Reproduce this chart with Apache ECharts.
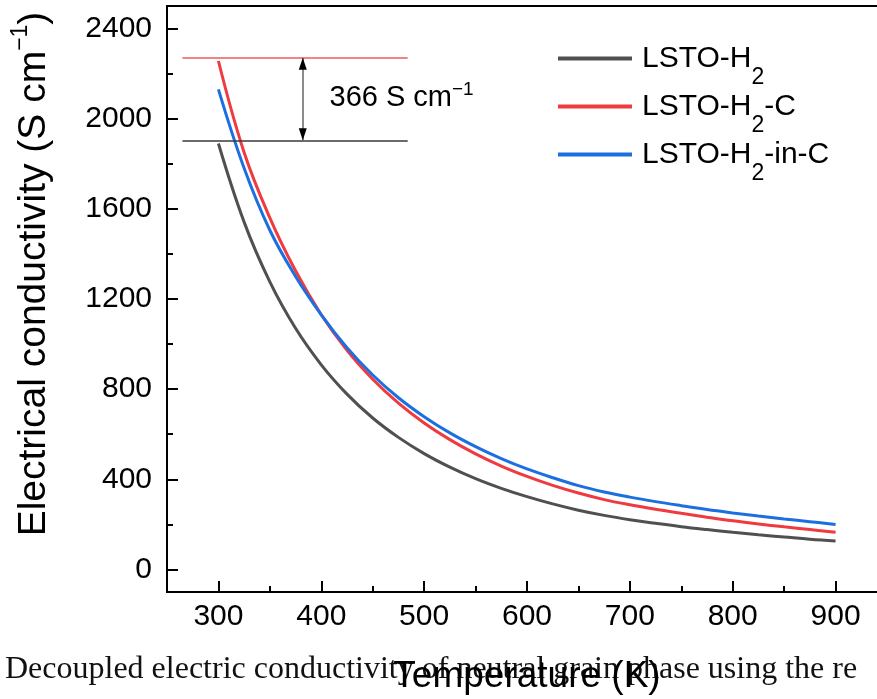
<!DOCTYPE html>
<html>
<head>
<meta charset="utf-8">
<script src="https://cdn.jsdelivr.net/npm/echarts@6/dist/echarts.min.js"></script>
<style>
  html, body { margin: 0; padding: 0; background: #fff; }
  #chart { width: 877px; height: 699px; }
</style>
</head>
<body>
<div id="chart"></div>
<script>
// temperature (K)
const temps = [300, 325, 350, 375, 400, 425, 450, 475, 500, 525, 550, 575, 600,
  625, 650, 675, 700, 725, 750, 775, 800, 825, 850, 875, 900]
// electrical conductivity (S cm-1)
const lstoH2 = [1890, 1541, 1276, 1070, 908, 778, 672, 586, 514, 454, 403, 360, 323,
  291, 263, 240, 221, 205, 190, 177, 165, 154, 144, 134, 126]
const lstoH2C = [2256, 1850, 1560, 1325, 1130, 972, 844, 738, 650, 576, 513, 459, 413,
  373, 339, 310, 287, 267, 249, 232, 216, 202, 189, 177, 165]
const lstoH2inC = [2130, 1780, 1505, 1300, 1130, 984, 863, 762, 678, 606, 545, 492, 446,
  407, 372, 344, 321, 301, 283, 266, 251, 237, 224, 212, 200]

const seriesNames = ['LSTO-H2', 'LSTO-H2-C', 'LSTO-H2-in-C']
const xTicks = [300, 400, 500, 600, 700, 800, 900]
const xMinorTicks = [350, 450, 550, 650, 750, 850]
const yTicks = [0, 400, 800, 1200, 1600, 2000, 2400]
const yMinorTicks = [200, 600, 1000, 1400, 1800, 2200]

// 366 S cm-1 gap annotation
const gapTop = 2270
const gapBottom = 1904
const gapFrom = 265
const gapTo = 484
const arrowX = 382
const gapLabelAt = [408, 2090]

const FONT = 'Liberation Sans, Arial, sans-serif'
const colors = ['#505050', '#EF3A3F', '#1D6FE0']

const chart = echarts.init(document.getElementById('chart'))

function toPairs(vals) {
  return temps.map((t, i) => [t, vals[i]])
}

function initSeries(name, vals, color) {
  return {
    name,
    type: 'line',
    data: toPairs(vals),
    smooth: 0.4,
    symbol: 'none',
    lineStyle: { color, width: 3 },
    itemStyle: { color },
    z: 3
  }
}

const series = [
  initSeries(seriesNames[0], lstoH2, colors[0]),
  initSeries(seriesNames[1], lstoH2C, colors[1]),
  initSeries(seriesNames[2], lstoH2inC, colors[2])
]

// annotation lines, arrow and label
series[0].markLine = {
  silent: true,
  animation: false,
  symbol: ['none', 'none'],
  label: { show: false },
  data: [
    [{ coord: [gapFrom, gapTop], lineStyle: { color: '#F25A5E', width: 1.5, type: 'solid' } }, { coord: [gapTo, gapTop] }],
    [{ coord: [gapFrom, gapBottom], lineStyle: { color: '#3a3a3a', width: 1.5, type: 'solid' } }, { coord: [gapTo, gapBottom] }],
    [{ coord: [arrowX, gapTop], lineStyle: { color: '#666', width: 1.5, type: 'solid' } }, { coord: [arrowX, gapBottom] }]
  ]
}
series[0].markPoint = {
  silent: true,
  animation: false,
  data: [{
    coord: [arrowX, gapTop],
    symbol: 'triangle',
    symbolSize: [8, 12],
    symbolOffset: [0, 6],
    itemStyle: { color: '#000' },
    label: { show: false }
  }, {
    coord: [arrowX, gapBottom],
    symbol: 'triangle',
    symbolSize: [8, 12],
    symbolRotate: 180,
    symbolOffset: [0, -6],
    itemStyle: { color: '#000' },
    label: { show: false }
  }, {
    coord: gapLabelAt,
    symbol: 'circle',
    symbolSize: 0,
    label: {
      show: true,
      position: 'right',
      distance: 0,
      formatter: '{n|366 S cm}{s|−1}',
      rich: {
        n: { fontFamily: FONT, fontSize: 29, lineHeight: 29, color: '#000', verticalAlign: 'bottom' },
        s: { fontFamily: FONT, fontSize: 19, lineHeight: 19, color: '#000', verticalAlign: 'bottom', padding: [0, 0, 14, 0] }
      }
    }
  }]
}

const plainNum = v => String(v)

const option = {
  animation: false,
  backgroundColor: '#fff',
  grid: {
    show: true,
    left: 167,
    top: 6,
    width: 720,
    bottom: 107,
    outerBoundsMode: 'none',
    containLabel: false,
    borderColor: '#000',
    borderWidth: 2,
    backgroundColor: 'transparent'
  },
  legend: {
    data: seriesNames,
    orient: 'vertical',
    left: 558,
    top: 28,
    padding: 0,
    icon: 'rect',
    itemWidth: 74,
    itemHeight: 4,
    itemGap: -13,
    formatter: name => {
      const [a, b] = name.split('H2')
      return '{f|' + a + 'H}{s|2}' + (b ? '{n|' + b + '}' : '')
    },
    textStyle: {
      rich: {
        f: { fontFamily: FONT, fontSize: 30, lineHeight: 30, color: '#000', verticalAlign: 'middle', padding: [0, 0, 0, 5] },
        n: { fontFamily: FONT, fontSize: 30, lineHeight: 30, color: '#000', verticalAlign: 'middle' },
        s: { fontFamily: FONT, fontSize: 23, lineHeight: 23, color: '#000', verticalAlign: 'middle', padding: [38, 0, 0, 0] }
      }
    }
  },
  xAxis: [{
    type: 'value',
    min: 250,
    max: 950,
    name: 'Temperature (K)',
    nameLocation: 'middle',
    nameGap: 66,
    nameTextStyle: { fontFamily: FONT, fontSize: 37, color: '#000' },
    axisLine: { show: true, onZero: false, lineStyle: { color: '#000', width: 2 } },
    axisTick: { show: true, inside: true, length: 11, customValues: xTicks, lineStyle: { color: '#000', width: 2 } },
    axisLabel: { customValues: xTicks, formatter: plainNum, margin: 10, fontFamily: FONT, fontSize: 30, color: '#000' },
    splitLine: { show: false }
  }, {
    type: 'value',
    min: 250,
    max: 950,
    gridIndex: 0,
    position: 'bottom',
    axisLine: { show: false, onZero: false },
    axisTick: { show: true, inside: true, length: 6, customValues: xMinorTicks, lineStyle: { color: '#000', width: 2 } },
    axisLabel: { show: false },
    splitLine: { show: false }
  }],
  yAxis: [{
    type: 'value',
    min: -100,
    max: 2500,
    axisLine: { show: true, onZero: false, lineStyle: { color: '#000', width: 2 } },
    axisTick: { show: true, inside: true, length: 11, customValues: yTicks, lineStyle: { color: '#000', width: 2 } },
    axisLabel: { customValues: yTicks, formatter: plainNum, margin: 15, fontFamily: FONT, fontSize: 30, color: '#000' },
    splitLine: { show: false }
  }, {
    type: 'value',
    min: -100,
    max: 2500,
    position: 'left',
    axisLine: { show: false, onZero: false },
    axisTick: { show: true, inside: true, length: 6, customValues: yMinorTicks, lineStyle: { color: '#000', width: 2 } },
    axisLabel: { show: false },
    splitLine: { show: false }
  }],
  graphic: [{
    type: 'text',
    x: 34,
    y: 274,
    rotation: Math.PI / 2,
    style: {
      text: '{n|Electrical conductivity (S cm}{s|−1}{n|)}',
      align: 'center',
      verticalAlign: 'middle',
      rich: {
        n: { fontFamily: FONT, fontSize: 39, lineHeight: 39, fill: '#000', verticalAlign: 'bottom' },
        s: { fontFamily: FONT, fontSize: 23, lineHeight: 23, fill: '#000', verticalAlign: 'bottom', padding: [0, 0, 21, 0] }
      }
    }
  }, {
    // caption text under the figure
    type: 'text',
    x: 5,
    y: 670,
    z: -1,
    style: {
      text: 'Decoupled electric conductivity of neutral grain phase using the re',
      fontFamily: 'Liberation Serif, Times New Roman, serif',
      fontSize: 32,
      fill: '#111',
      align: 'left',
      verticalAlign: 'middle'
    }
  }],
  series
}

chart.setOption(option)
</script>
</body>
</html>
